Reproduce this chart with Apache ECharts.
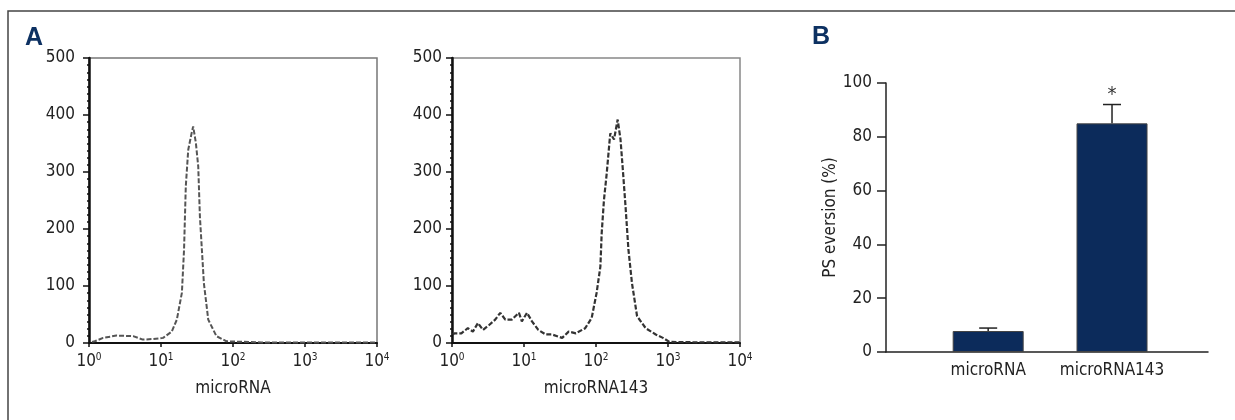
<!DOCTYPE html>
<html>
<head>
<meta charset="utf-8">
<script src="https://cdn.jsdelivr.net/npm/echarts@6/dist/echarts.min.js"></script>
<style>
  html, body { margin: 0; padding: 0; background: #fff; }
  #main { width: 1235px; height: 420px; }
</style>
</head>
<body>
<div id="main"></div>
<script>
// panel A, left histogram (microRNA)
var ctrlIntensity = [1.1, 1.2, 1.57, 2.4, 4.1, 5.6, 7.8, 10.7, 14.1, 16.6, 19.5, 20.9, 22.1, 23.9, 26.6, 28, 30.5, 32.9, 34.7, 39.4, 45.3, 58.9, 81.3, 251, 1000, 3000, 10000];
var ctrlCount = [2, 3, 9, 13, 12, 6, 7, 9, 20, 41, 88, 164, 275, 339, 368, 380, 351, 310, 222, 105, 41, 12, 3, 1, 1, 1, 1];
// panel A, right histogram (microRNA143)
var mirIntensity = [1.02, 1.09, 1.35, 1.66, 1.95, 2.29, 2.69, 3.31, 3.98, 4.68, 5.5, 6.76, 8.51, 9.33, 11, 12.9, 15.8, 20, 24.5, 33.9, 41.7, 52.5, 70.8, 87.1, 102, 115, 120, 129, 141, 155, 158, 178, 200, 219, 234, 257, 282, 316, 372, 490, 676, 851, 1047, 3162, 10000];
var mirCount = [15, 17, 17, 26, 20, 35, 23, 32, 41, 53, 41, 41, 53, 38, 53, 38, 23, 15, 15, 9, 20, 17, 26, 44, 88, 134, 193, 251, 298, 357, 368, 357, 392, 357, 310, 240, 164, 105, 47, 26, 15, 9, 2, 1, 1];
var histNames = ['microRNA', 'microRNA143'];

// panel B
var categories = ['microRNA', 'microRNA143'];
var psEversion = [7.8, 85];
var psError = [1.1, 7];
var sigMarks = ['', '*'];

var FONT = "'Liberation Sans Narrow', 'DejaVu Sans Condensed', 'Liberation Sans', sans-serif";
var TXT = '#222';

function pairs(xs, ys) {
    var out = [];
    for (var i = 0; i < xs.length; i++) out.push([xs[i], ys[i]]);
    return out;
}

function logAxis(idx, name) {
    return {
        type: 'log', logBase: 10, min: 1, max: 10000, gridIndex: idx,
        name: name, nameLocation: 'middle', nameGap: 37,
        nameTextStyle: { fontFamily: FONT, fontSize: 17, color: TXT },
        axisLine: { lineStyle: { color: '#111', width: 2 } },
        axisTick: { show: true, length: 4, lineStyle: { color: '#111', width: 1.5 } },
        minorTick: { show: false },
        splitLine: { show: false },
        axisLabel: {
            margin: 9,
            formatter: function (v) {
                return '10{s|' + Math.round(Math.log(v) / Math.LN10) + '}';
            },
            fontFamily: FONT, fontSize: 17, color: TXT, lineHeight: 20,
            rich: {
                s: { fontFamily: FONT, fontSize: 10, color: TXT, verticalAlign: 'top', lineHeight: 20, padding: [0, 0, 6, 0] }
            }
        }
    };
}

function countAxis(idx, margin) {
    return {
        type: 'value', min: 0, max: 500, interval: 100, gridIndex: idx,
        axisLine: { show: true, lineStyle: { color: '#111', width: 2.5 } },
        axisTick: { show: true, length: 6, lineStyle: { color: '#111', width: 1.5 } },
        minorTick: { show: true, splitNumber: 8, length: 2, lineStyle: { color: '#111', width: 1.5 } },
        splitLine: { show: false },
        axisLabel: { margin: margin, fontFamily: FONT, fontSize: 17, color: TXT }
    };
}

var myChart = echarts.init(document.getElementById('main'));
var option = {
    animation: false,
    backgroundColor: '#fff',
    graphic: [
        { type: 'polyline', shape: { points: [[8, 420], [8, 11], [1235, 11]] },
          style: { stroke: '#444', lineWidth: 1.5, fill: null } },
        { type: 'text', left: 25, top: 26,
          style: { text: 'A', fontFamily: "'Liberation Sans', sans-serif", fontWeight: 'bold', fontSize: 25, fill: '#0d3162' } },
        { type: 'text', left: 812, top: 25,
          style: { text: 'B', fontFamily: "'Liberation Sans', sans-serif", fontWeight: 'bold', fontSize: 25, fill: '#0d3162' } }
    ],
    grid: [
        { left: 89, top: 58, width: 288, height: 285, show: true, borderColor: '#777', borderWidth: 1.5, backgroundColor: 'transparent' },
        { left: 452, top: 58, width: 288, height: 285, show: true, borderColor: '#888', borderWidth: 1.5, backgroundColor: 'transparent' },
        { left: 886, top: 83, width: 322, height: 269 }
    ],
    xAxis: [
        logAxis(0, histNames[0]),
        logAxis(1, histNames[1]),
        {
            type: 'value', gridIndex: 2, min: 0.175, max: 2.775,
            axisLine: { show: true, lineStyle: { color: '#222', width: 1.5 } },
            axisTick: { show: false },
            splitLine: { show: false },
            axisLabel: {
                customValues: [1, 2], margin: 10,
                formatter: function (v) { return categories[Math.round(v) - 1]; },
                fontFamily: FONT, fontSize: 17, color: TXT
            }
        }
    ],
    yAxis: [
        countAxis(0, 14),
        countAxis(1, 10),
        {
            type: 'value', gridIndex: 2, min: 0, max: 100, interval: 20,
            name: 'PS eversion (%)', nameLocation: 'middle', nameGap: 41,
            nameTextStyle: { fontFamily: FONT, fontSize: 17, color: TXT },
            axisLine: { show: true, lineStyle: { color: '#222', width: 1.5 } },
            axisTick: { show: true, length: 9, lineStyle: { color: '#222', width: 1.5 } },
            splitLine: { show: false },
            axisLabel: { margin: 14, fontFamily: FONT, fontSize: 17, color: TXT }
        }
    ],
    series: [
        {
            type: 'line', xAxisIndex: 0, yAxisIndex: 0, data: pairs(ctrlIntensity, ctrlCount),
            showSymbol: false, lineStyle: { color: '#555', width: 2, type: [5, 2] }
        },
        {
            type: 'line', xAxisIndex: 1, yAxisIndex: 1, data: pairs(mirIntensity, mirCount),
            showSymbol: false, lineStyle: { color: '#333', width: 2.2, type: [5, 2] }
        },
        {
            type: 'bar', xAxisIndex: 2, yAxisIndex: 2, barWidth: 71,
            data: psEversion.map(function (v, i) { return [i + 1, v]; }),
            itemStyle: { color: '#0c2b5b', borderColor: '#444', borderWidth: 1 }
        },
        {
            type: 'custom', xAxisIndex: 2, yAxisIndex: 2, z: 5,
            data: psEversion.map(function (v, i) { return [i + 1, v, psError[i]]; }),
            renderItem: function (params, api) {
                var x = api.value(0), m = api.value(1), e = api.value(2);
                var base = api.coord([x, m]);
                var top = api.coord([x, m + e]);
                var children = [
                    { type: 'line', shape: { x1: base[0], y1: base[1], x2: top[0], y2: top[1] },
                      style: { stroke: '#222', lineWidth: 1.5 } },
                    { type: 'line', shape: { x1: top[0] - 9, y1: top[1], x2: top[0] + 9, y2: top[1] },
                      style: { stroke: '#222', lineWidth: 1.5 } }
                ];
                if (sigMarks[params.dataIndex]) {
                    children.push({ type: 'text', x: top[0], y: top[1] - 10,
                        style: { text: sigMarks[params.dataIndex], fontFamily: FONT, fontSize: 20,
                                 fill: '#333', align: 'center', verticalAlign: 'middle' } });
                }
                return { type: 'group', children: children };
            }
        }
    ]
};
myChart.setOption(option);
</script>
</body>
</html>
